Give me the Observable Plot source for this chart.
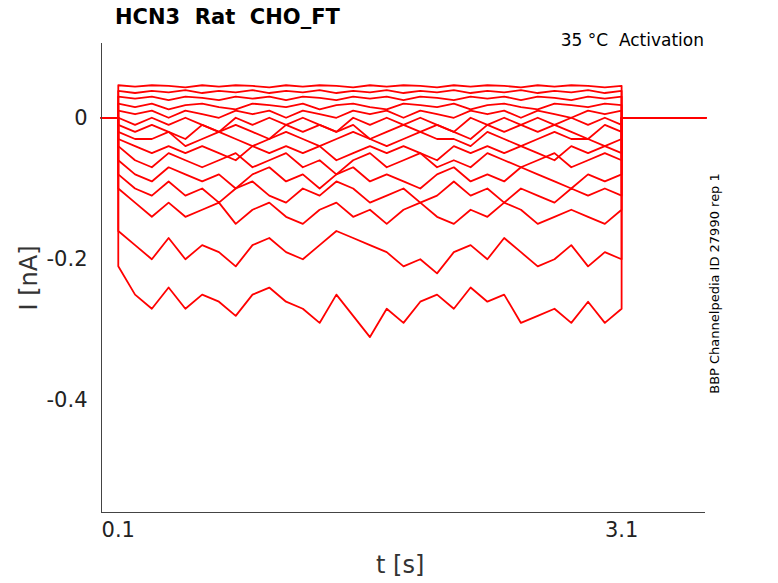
<!DOCTYPE html>
<html><head><meta charset="utf-8">
<script src="https://cdn.jsdelivr.net/npm/d3@7"></script>
<script src="https://cdn.jsdelivr.net/npm/@observablehq/plot@0.6"></script>
<style>
body{margin:0;background:#fff;font-family:"DejaVu Sans",sans-serif}
#wrap{position:relative;width:778px;height:583px}
.t{position:absolute;white-space:pre;color:#000}
</style></head><body>
<div id="wrap"></div>
<script>
const title = "HCN3  Rat  CHO_FT";
const subtitle = "35 °C  Activation";
const sideNote = "BBP Channelpedia ID 27990 rep 1";
const xTicks = [0.1, 3.1];
const yTicks = [-0.4, -0.2, 0];
// sample times during the step (s)
const stepTimes = [0.1,0.2,0.3,0.4,0.5,0.6,0.7,0.8,0.9,1.0,1.1,1.2,1.3,1.4,1.5,1.6,1.7,1.8,1.9,2.0,2.1,2.2,2.3,2.4,2.5,2.6,2.7,2.8,2.9,3.0,3.1];
// currents (nA) read from each sweep
const sweeps = [
 [-0.21,-0.25,-0.27,-0.24,-0.27,-0.25,-0.26,-0.28,-0.25,-0.24,-0.26,-0.27,-0.29,-0.25,-0.28,-0.31,-0.27,-0.29,-0.26,-0.25,-0.27,-0.24,-0.26,-0.25,-0.29,-0.28,-0.27,-0.29,-0.26,-0.29,-0.27],
 [-0.16,-0.18,-0.2,-0.17,-0.2,-0.18,-0.19,-0.21,-0.18,-0.17,-0.19,-0.2,-0.18,-0.16,-0.17,-0.18,-0.19,-0.21,-0.2,-0.22,-0.19,-0.18,-0.2,-0.17,-0.19,-0.21,-0.2,-0.18,-0.21,-0.19,-0.2],
 [-0.1,-0.12,-0.14,-0.12,-0.14,-0.13,-0.12,-0.15,-0.13,-0.12,-0.14,-0.15,-0.13,-0.12,-0.14,-0.13,-0.15,-0.13,-0.12,-0.14,-0.15,-0.13,-0.14,-0.12,-0.13,-0.15,-0.14,-0.13,-0.14,-0.15,-0.13],
 [-0.08,-0.1,-0.11,-0.09,-0.11,-0.1,-0.12,-0.1,-0.09,-0.11,-0.12,-0.1,-0.11,-0.09,-0.1,-0.12,-0.11,-0.1,-0.12,-0.11,-0.09,-0.11,-0.1,-0.12,-0.1,-0.11,-0.12,-0.1,-0.11,-0.1,-0.11],
 [-0.06,-0.08,-0.09,-0.07,-0.08,-0.09,-0.08,-0.1,-0.08,-0.07,-0.09,-0.08,-0.1,-0.08,-0.07,-0.09,-0.08,-0.09,-0.1,-0.08,-0.07,-0.09,-0.08,-0.09,-0.07,-0.08,-0.09,-0.1,-0.08,-0.09,-0.08],
 [-0.04,-0.06,-0.07,-0.05,-0.06,-0.07,-0.06,-0.05,-0.07,-0.06,-0.05,-0.07,-0.06,-0.08,-0.06,-0.05,-0.07,-0.06,-0.05,-0.07,-0.06,-0.07,-0.05,-0.06,-0.07,-0.06,-0.05,-0.07,-0.06,-0.05,-0.06],
 [-0.03,-0.04,-0.05,-0.04,-0.05,-0.04,-0.05,-0.06,-0.04,-0.05,-0.04,-0.05,-0.04,-0.06,-0.05,-0.04,-0.05,-0.04,-0.05,-0.06,-0.04,-0.05,-0.04,-0.05,-0.04,-0.05,-0.06,-0.04,-0.05,-0.04,-0.05],
 [-0.02,-0.03,-0.03,-0.02,-0.04,-0.03,-0.02,-0.03,-0.04,-0.03,-0.02,-0.03,-0.04,-0.03,-0.02,-0.03,-0.04,-0.03,-0.02,-0.03,-0.03,-0.04,-0.02,-0.03,-0.04,-0.03,-0.02,-0.03,-0.03,-0.04,-0.03],
 [-0.01,-0.02,-0.01,-0.02,-0.03,-0.01,-0.02,-0.01,-0.02,-0.03,-0.01,-0.02,-0.01,-0.02,-0.01,-0.03,-0.02,-0.01,-0.02,-0.01,-0.02,-0.03,-0.01,-0.02,-0.01,-0.02,-0.01,-0.02,-0.03,-0.01,-0.02],
 [0.0,-0.01,0.0,-0.01,0.0,-0.01,-0.02,0.0,-0.01,0.0,-0.01,0.0,-0.01,-0.02,0.0,-0.01,0.0,-0.01,0.0,-0.01,-0.02,0.0,-0.01,0.0,-0.01,0.0,-0.01,0.0,-0.01,0.0,-0.01],
 [0.01,0.005,0.01,0.0,0.01,0.005,0.0,0.01,0.005,0.01,0.0,0.01,0.005,0.0,0.01,0.005,0.01,0.0,0.01,0.005,0.0,0.01,0.005,0.01,0.0,0.01,0.005,0.0,0.01,0.005,0.01],
 [0.02,0.015,0.02,0.012,0.018,0.02,0.015,0.012,0.02,0.018,0.015,0.02,0.012,0.018,0.02,0.015,0.012,0.02,0.018,0.015,0.02,0.012,0.018,0.02,0.015,0.012,0.02,0.018,0.015,0.02,0.018],
 [0.03,0.027,0.03,0.025,0.03,0.028,0.025,0.03,0.027,0.03,0.025,0.03,0.028,0.025,0.03,0.027,0.03,0.025,0.03,0.028,0.025,0.03,0.027,0.03,0.025,0.03,0.028,0.025,0.03,0.027,0.03],
 [0.038,0.035,0.038,0.036,0.039,0.035,0.038,0.036,0.039,0.035,0.038,0.036,0.039,0.035,0.038,0.036,0.039,0.035,0.038,0.036,0.039,0.035,0.038,0.036,0.039,0.035,0.038,0.036,0.039,0.035,0.038],
 [0.046,0.044,0.046,0.045,0.043,0.046,0.044,0.046,0.045,0.043,0.046,0.044,0.046,0.045,0.043,0.046,0.044,0.046,0.045,0.043,0.046,0.044,0.046,0.045,0.043,0.046,0.044,0.046,0.045,0.043,0.045]
];
// holding baseline before and after the step
const preTimes = [0, 0.1];
const postTimes = [3.1, 3.6];
const preValues = [0, 0];
const postValues = [0, 0];

const rows = [];
sweeps.forEach((s, k) => {
  preTimes.forEach((t, i) => rows.push({k, t, v: preValues[i]}));
  s.forEach((v, i) => rows.push({k, t: stepTimes[i], v}));
  postTimes.forEach((t, i) => rows.push({k, t, v: postValues[i]}));
});

const chart = Plot.plot({
  width: 778, height: 583,
  marginLeft: 101, marginRight: 73, marginTop: 43, marginBottom: 71,
  style: {fontFamily: "DejaVu Sans, sans-serif", fontSize: "21px", color: "#222"},
  x: {domain: [0, 3.6], ticks: xTicks, tickFormat: d => d.toFixed(1), tickSize: 0, tickPadding: 10, label: null},
  y: {domain: [-0.558, 0.105], ticks: yTicks, tickFormat: d => d === 0 ? "0" : d.toFixed(1), tickSize: 0, tickPadding: 14, label: null},
  marks: [
    Plot.line(rows, {x: "t", y: "v", z: "k", stroke: "#ff0000", strokeWidth: 1.8}),
    Plot.ruleX([0], {stroke: "#444"}),
    Plot.ruleY([-0.558], {stroke: "#444"})
  ]
});
const wrap = document.getElementById("wrap");
wrap.appendChild(chart);
function addText(txt, css){const d=document.createElement("div");d.className="t";d.textContent=txt;Object.assign(d.style,css);wrap.appendChild(d);}
addText(title,{left:"115px",top:"5px",fontSize:"21px",fontWeight:"bold"});
addText(subtitle,{right:"74px",top:"30px",fontSize:"17px"});
addText("t [s]",{left:"376px",top:"551px",fontSize:"24px",color:"#333"});
addText("I [nA]",{left:"-4px",top:"264px",fontSize:"24px",color:"#333",transform:"rotate(-90deg)"});
addText(sideNote,{left:"604px",top:"276px",fontSize:"13px",transform:"rotate(-90deg)"});
</script>
</body></html>
